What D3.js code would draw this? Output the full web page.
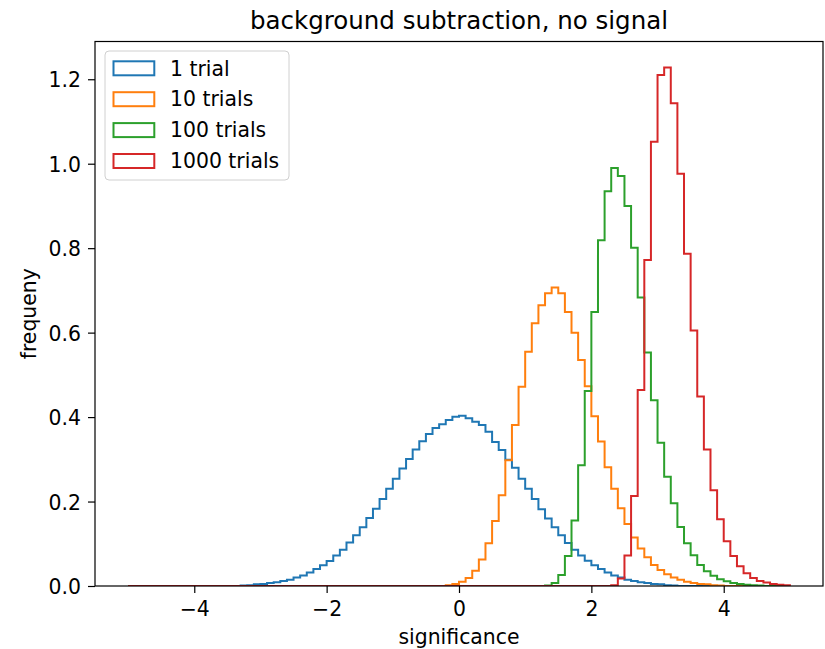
<!DOCTYPE html>
<html><head><meta charset="utf-8">
<script src="https://cdn.jsdelivr.net/npm/d3@7"></script>
<style>
body{margin:0;background:#fff}
svg{display:block}
text{font-family:"DejaVu Sans",sans-serif;fill:#000}
</style>
</head><body>
<svg id="chart" width="825" height="649"></svg>
<script>
// ---------------- data ----------------
const chartTitle = "background subtraction, no signal";
const xLabel = "significance";
const yLabel = "frequeny";
const seriesNames = ["1 trial", "10 trials", "100 trials", "1000 trials"];
const seriesColors = ["#1f77b4", "#ff7f0e", "#2ca02c", "#d62728"];
const binLow = -5, binHigh = 5, binCount = 100;
const xTicks = [-4, -2, 0, 2, 4];
const yTicks = [0.0, 0.2, 0.4, 0.6, 0.8, 1.0, 1.2];

const trial1 = [
  0,0,0,0,0,0,0,0,0,0,
  0,0,0,0,0,0,0,0.001,0.002,0.004,
  0.005,0.007,0.009,0.012,0.015,0.020,0.025,0.032,0.040,0.049,
  0.059,0.072,0.086,0.103,0.120,0.139,0.161,0.183,0.206,0.230,
  0.254,0.278,0.301,0.323,0.343,0.360,0.374,0.383,0.393,0.401,
  0.403,0.397,0.389,0.381,0.365,0.341,0.322,0.299,0.280,0.254,
  0.230,0.206,0.182,0.160,0.139,0.120,0.102,0.086,0.072,0.060,
  0.049,0.040,0.032,0.025,0.020,0.015,0.012,0.009,0.007,0.005,
  0.004,0.002,0.001,0,0,0,0,0,0,0,
  0,0,0,0,0,0,0,0,0,0
];
const trial10 = [
  0,0,0,0,0,0,0,0,0,0,
  0,0,0,0,0,0,0,0,0,0,
  0,0,0,0,0,0,0,0,0,0,
  0,0,0,0,0,0,0,0,0,0,
  0,0,0,0,0,0,0,0,0.002,0.005,
  0.010,0.019,0.036,0.063,0.101,0.154,0.215,0.298,0.381,0.472,
  0.555,0.622,0.665,0.693,0.707,0.693,0.649,0.600,0.535,0.473,
  0.402,0.342,0.281,0.230,0.184,0.147,0.115,0.089,0.068,0.050,
  0.038,0.028,0.020,0.015,0.010,0.007,0.005,0.004,0.002,0.001,
  0,0,0,0,0,0,0,0,0,0
];
const trial100 = [
  0,0,0,0,0,0,0,0,0,0,
  0,0,0,0,0,0,0,0,0,0,
  0,0,0,0,0,0,0,0,0,0,
  0,0,0,0,0,0,0,0,0,0,
  0,0,0,0,0,0,0,0,0,0,
  0,0,0,0,0,0,0,0,0,0,
  0,0,0,0.001,0.007,0.026,0.071,0.155,0.286,0.462,
  0.649,0.819,0.935,0.990,0.971,0.900,0.801,0.683,0.553,0.440,
  0.339,0.259,0.196,0.140,0.101,0.073,0.050,0.035,0.024,0.016,
  0.011,0.007,0.005,0.003,0.002,0.001,0,0,0,0
];
const trial1000 = [
  0,0,0,0,0,0,0,0,0,0,
  0,0,0,0,0,0,0,0,0,0,
  0,0,0,0,0,0,0,0,0,0,
  0,0,0,0,0,0,0,0,0,0,
  0,0,0,0,0,0,0,0,0,0,
  0,0,0,0,0,0,0,0,0,0,
  0,0,0,0,0,0,0,0,0,0,
  0,0,0,0.002,0.018,0.072,0.213,0.464,0.772,1.052,
  1.210,1.228,1.143,0.976,0.787,0.605,0.449,0.323,0.227,0.158,
  0.106,0.071,0.047,0.030,0.019,0.012,0.008,0.005,0.003,0.002
];
const seriesValues = [trial1, trial10, trial100, trial1000];

// ---------------- layout ----------------
const margin = {left: 95, right: 2, top: 41.5, bottom: 63};
const W = 825, H = 649;
const fs = 20.4;

const svg = d3.select("#chart");
const binEdges = d3.range(binCount + 1).map(i => binLow + (binHigh - binLow) * i / binCount);

const xPad = (binHigh - binLow) * 0.05;
const x = d3.scaleLinear().domain([binLow - xPad, binHigh + xPad])
  .range([margin.left, W - margin.right]);
const yMax = d3.max(seriesValues, s => d3.max(s));
const y = d3.scaleLinear().domain([0, yMax * 1.05]).range([H - margin.bottom, margin.top]);

svg.append("defs").append("clipPath").attr("id", "plotclip")
  .append("rect").attr("x", x.range()[0]).attr("y", y.range()[1])
  .attr("width", x.range()[1] - x.range()[0]).attr("height", y.range()[0] - y.range()[1]);

const line = d3.line().x(d => x(d[0])).y(d => y(d[1]));
const g = svg.append("g").attr("clip-path", "url(#plotclip)");
seriesValues.forEach((vals, k) => {
  const pts = [[binEdges[0], 0]];
  vals.forEach((v, i) => { pts.push([binEdges[i], v]); pts.push([binEdges[i + 1], v]); });
  pts.push([binEdges[binCount], 0]);
  g.append("path").attr("d", line(pts)).attr("fill", "none")
    .attr("stroke", seriesColors[k]).attr("stroke-width", 2)
    .attr("stroke-linejoin", "miter");
});

// axes
const fmtX = d => (d < 0 ? "\u2212" + Math.abs(d) : String(d));
const xAxis = d3.axisBottom(x).tickValues(xTicks).tickFormat(fmtX).tickSize(7).tickPadding(7);
const yAxis = d3.axisLeft(y).tickValues(yTicks).tickFormat(d3.format(".1f")).tickSize(7).tickPadding(7);

const gx = svg.append("g").attr("transform", `translate(0,${y.range()[0]})`).call(xAxis);
const gy = svg.append("g").attr("transform", `translate(${x.range()[0]},0)`).call(yAxis);
[gx, gy].forEach(a => {
  a.select(".domain").remove();
  a.selectAll(".tick line").attr("stroke", "#000").attr("stroke-width", 1.2);
  a.selectAll(".tick text").attr("font-size", fs).attr("font-family", "DejaVu Sans").attr("fill", "#000");
});
gx.selectAll(".tick text").attr("dy", null).attr("y", 30);
gy.selectAll(".tick text").attr("dy", "0.37em");

// spines
svg.append("rect").attr("x", x.range()[0]).attr("y", y.range()[1])
  .attr("width", x.range()[1] - x.range()[0]).attr("height", y.range()[0] - y.range()[1])
  .attr("fill", "none").attr("stroke", "#000").attr("stroke-width", 1.2);

// labels
const cx = (x.range()[0] + x.range()[1]) / 2;
svg.append("text").attr("x", cx).attr("y", 29).attr("text-anchor", "middle")
  .attr("font-size", 24.5).text(chartTitle);
svg.append("text").attr("x", cx).attr("y", 644).attr("text-anchor", "middle")
  .attr("font-size", fs).text(xLabel);
const cy = (y.range()[0] + y.range()[1]) / 2;
svg.append("text").attr("transform", `translate(35.5,${cy}) rotate(-90)`)
  .attr("text-anchor", "middle").attr("font-size", fs).text(yLabel);

// legend
const lg = svg.append("g");
lg.append("rect").attr("x", 105).attr("y", 51).attr("width", 184).attr("height", 129)
  .attr("rx", 4).attr("fill", "#fff").attr("fill-opacity", 0.8)
  .attr("stroke", "#d0d0d0").attr("stroke-width", 1);
seriesNames.forEach((name, k) => {
  const yc = 68.3 + k * 30.9;
  lg.append("rect").attr("x", 113.5).attr("y", yc - 7).attr("width", 40.8).attr("height", 14)
    .attr("fill", "none").attr("stroke", seriesColors[k]).attr("stroke-width", 2);
  lg.append("text").attr("x", 170).attr("y", yc + 7.2).attr("font-size", fs).text(name);
});
</script>
</body></html>
